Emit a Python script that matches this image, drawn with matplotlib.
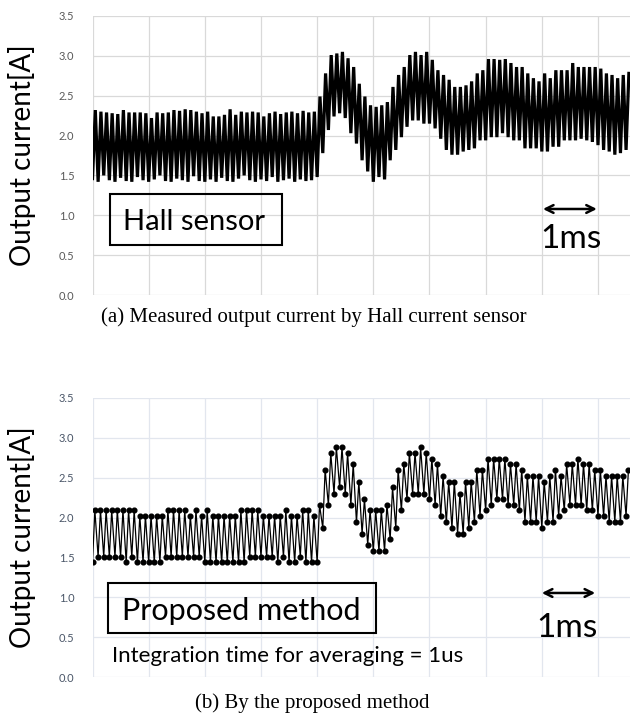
import numpy as np
import matplotlib.pyplot as plt
from matplotlib.patches import Rectangle

plt.rcParams['font.family'] = ['Lato', 'DejaVu Sans']

# one switching period = 0.1 ms, one trough and one peak per period
period_ms = 0.1

# (a) Hall sensor: trough / peak of every period [A]
hall_low = [1.46, 1.42, 1.50, 1.44, 1.42, 1.47, 1.43, 1.42, 1.48, 1.44,
            1.42, 1.45, 1.50, 1.43, 1.42, 1.46, 1.44, 1.42, 1.49, 1.43,
            1.42, 1.45, 1.42, 1.47, 1.43, 1.42, 1.46, 1.50, 1.44, 1.42,
            1.45, 1.43, 1.48, 1.42, 1.44, 1.46, 1.42, 1.45, 1.43, 1.44,
            1.48, 1.78, 2.07, 2.24, 2.28, 2.22, 2.03, 1.90, 1.69, 1.55,
            1.42, 1.48, 1.45, 1.69, 1.82, 1.98, 2.11, 2.19, 2.19, 2.15,
            2.15, 2.09, 1.96, 1.82,
            1.76, 1.76, 1.80, 1.82, 1.84, 1.94, 1.94, 1.98, 1.98, 2.03,
            1.98, 1.94, 1.94, 1.84, 1.84, 1.84, 1.80, 1.80, 1.86, 1.86,
            1.94, 1.94, 1.94, 1.96, 1.94, 1.92, 1.88, 1.82, 1.80, 1.76,
            1.78, 1.82]
hall_high = [2.32, 2.30, 2.29, 2.28, 2.27, 2.32, 2.29, 2.29, 2.29, 2.28,
             2.22, 2.29, 2.28, 2.29, 2.32, 2.31, 2.33, 2.32, 2.30, 2.28,
             2.30, 2.24, 2.24, 2.26, 2.33, 2.26, 2.30, 2.29, 2.30, 2.29,
             2.24, 2.28, 2.30, 2.27, 2.29, 2.30, 2.28, 2.31, 2.29, 2.30,
             2.49, 2.78, 3.01, 3.03, 3.05, 2.97, 2.86, 2.65, 2.49, 2.38,
             2.36, 2.38, 2.42, 2.61, 2.76, 2.86, 3.01, 3.05, 3.01, 3.05,
             2.95, 2.82, 2.76, 2.70,
             2.61, 2.61, 2.63, 2.68, 2.78, 2.82, 2.96, 2.96, 2.95, 2.96,
             2.91, 2.86, 2.86, 2.78, 2.72, 2.68, 2.78, 2.72, 2.82, 2.82,
             2.82, 2.91, 2.86, 2.86, 2.86, 2.86, 2.84, 2.78, 2.76, 2.72,
             2.76, 2.78]

# (b) proposed method: sampled low / high value of every period [A]
prop_low = [1.44, 1.51, 1.51, 1.51, 1.51, 1.51, 1.44, 1.51, 1.44, 1.44,
            1.44, 1.44, 1.44, 1.51, 1.51, 1.51, 1.51, 1.51, 1.51, 1.51,
            1.44, 1.44, 1.44, 1.44, 1.44, 1.44, 1.44, 1.44, 1.51, 1.51,
            1.51, 1.51, 1.51, 1.44, 1.51, 1.44, 1.44, 1.51, 1.44, 1.44,
            1.44, 1.87, 2.16, 2.30, 2.38, 2.30, 2.16, 1.94, 1.80, 1.66,
            1.58, 1.58, 1.58, 1.73, 1.87, 2.09, 2.23, 2.30, 2.30, 2.30,
            2.23, 2.16, 2.02, 1.94,
            1.87, 1.80, 1.80, 1.87, 1.95, 2.02, 2.09, 2.16, 2.23, 2.23,
            2.16, 2.16, 2.09, 1.95, 1.95, 1.95, 1.87, 1.95, 1.95, 2.02,
            2.09, 2.16, 2.16, 2.16, 2.09, 2.09, 2.02, 2.02, 1.95, 1.95,
            1.95, 2.02]
prop_high = [2.09, 2.09, 2.09, 2.09, 2.09, 2.09, 2.09, 2.09, 2.02, 2.02,
             2.02, 2.02, 2.02, 2.09, 2.09, 2.09, 2.09, 2.02, 2.09, 2.02,
             2.09, 2.02, 2.02, 2.02, 2.02, 2.02, 2.09, 2.09, 2.09, 2.09,
             2.02, 2.02, 2.02, 2.02, 2.09, 2.02, 2.02, 2.09, 2.09, 2.02,
             2.16, 2.60, 2.81, 2.88, 2.88, 2.81, 2.67, 2.45, 2.23, 2.09,
             2.09, 2.09, 2.16, 2.38, 2.60, 2.67, 2.81, 2.81, 2.88, 2.81,
             2.74, 2.67, 2.52, 2.45,
             2.45, 2.30, 2.45, 2.45, 2.60, 2.60, 2.74, 2.74, 2.74, 2.74,
             2.67, 2.67, 2.60, 2.52, 2.52, 2.52, 2.45, 2.52, 2.60, 2.52,
             2.67, 2.67, 2.74, 2.67, 2.67, 2.60, 2.60, 2.52, 2.52, 2.52,
             2.52, 2.60]

y_ticks = [0.0, 0.5, 1.0, 1.5, 2.0, 2.5, 3.0, 3.5]
x_grid = list(range(10))


def zigzag(lo, hi, phase):
    k = np.arange(len(lo))
    t = np.empty(2 * len(lo))
    v = np.empty(2 * len(lo))
    t[0::2] = k * period_ms
    t[1::2] = (k + phase) * period_ms
    v[0::2] = lo
    v[1::2] = hi
    return t, v


def style_axes(ax, grid_col, tick_col):
    ax.set_xlim(0, 9.57)
    ax.set_ylim(0, 3.5)
    ax.set_xticks(x_grid)
    ax.set_xticklabels([])
    ax.set_yticks(y_ticks)
    ax.set_yticklabels([f'{v:.1f}' for v in y_ticks])
    ax.tick_params(length=0, pad=13, labelsize=8, labelcolor=tick_col)
    ax.grid(True, color=grid_col, lw=0.9)
    ax.set_axisbelow(True)
    for s in ax.spines.values():
        s.set_visible(False)
    ax.set_ylabel('Output current[A]', fontsize=20, va='center')
    ax.yaxis.set_label_coords(-0.131, 0.5)


fig = plt.figure(figsize=(6.3, 7.15), dpi=100)
ax1 = fig.add_axes([92.5 / 630, 1 - 295 / 715, 537.5 / 630, 279 / 715])
ax2 = fig.add_axes([92.5 / 630, 1 - 677 / 715, 537.5 / 630, 279 / 715])

# (a) Hall sensor
style_axes(ax1, '#d9d9d9', '#595959')
t, v = zigzag(hall_low, hall_high, 0.5)
ax1.plot(t, v, color='black', lw=2.3, solid_joinstyle='miter')
ax1.add_patch(Rectangle((0.312, 0.627), 3.063, 0.64, fill=False,
                        ec='black', lw=1.5, zorder=5))
ax1.text(1.81, 0.816, 'Hall sensor', fontsize=21, ha='center',
         va='baseline', zorder=6)
ax1.annotate('', xy=(8.98, 1.079), xytext=(8.02, 1.079),
             arrowprops=dict(arrowstyle='<->', lw=1.8, color='black',
                             shrinkA=0, shrinkB=0, mutation_scale=14))
ax1.text(8.51, 0.59, '1ms', fontsize=24, ha='center', va='baseline')

# (b) proposed method
style_axes(ax2, '#e2e6ee', '#4a5668')
t, v = zigzag(prop_low, prop_high, 0.42)
ax2.plot(t, v, color='black', lw=0.9, marker='o', ms=3.4,
         mfc='black', mec='black')
ax2.add_patch(Rectangle((0.276, 0.552), 4.773, 0.627, fill=False,
                        ec='black', lw=1.5, zorder=5))
ax2.text(2.645, 0.715, 'Proposed method', fontsize=22, ha='center',
         va='baseline', zorder=6)
ax2.text(0.347, 0.188, 'Integration time for averaging = 1us',
         fontsize=16, ha='left', va='baseline')
ax2.annotate('', xy=(8.95, 1.054), xytext=(8.0, 1.054),
             arrowprops=dict(arrowstyle='<->', lw=1.8, color='black',
                             shrinkA=0, shrinkB=0, mutation_scale=14))
ax2.text(8.44, 0.502, '1ms', fontsize=24, ha='center', va='baseline')

fig.text(0.498, 1 - 317 / 715, '(a) Measured output current by Hall current sensor',
         family='Liberation Serif', fontsize=15, ha='center', va='center')
fig.text(0.495, 1 - 703 / 715, '(b) By the proposed method',
         family='Liberation Serif', fontsize=15, ha='center', va='center')

fig.savefig('out.png', dpi=100, facecolor='white')
